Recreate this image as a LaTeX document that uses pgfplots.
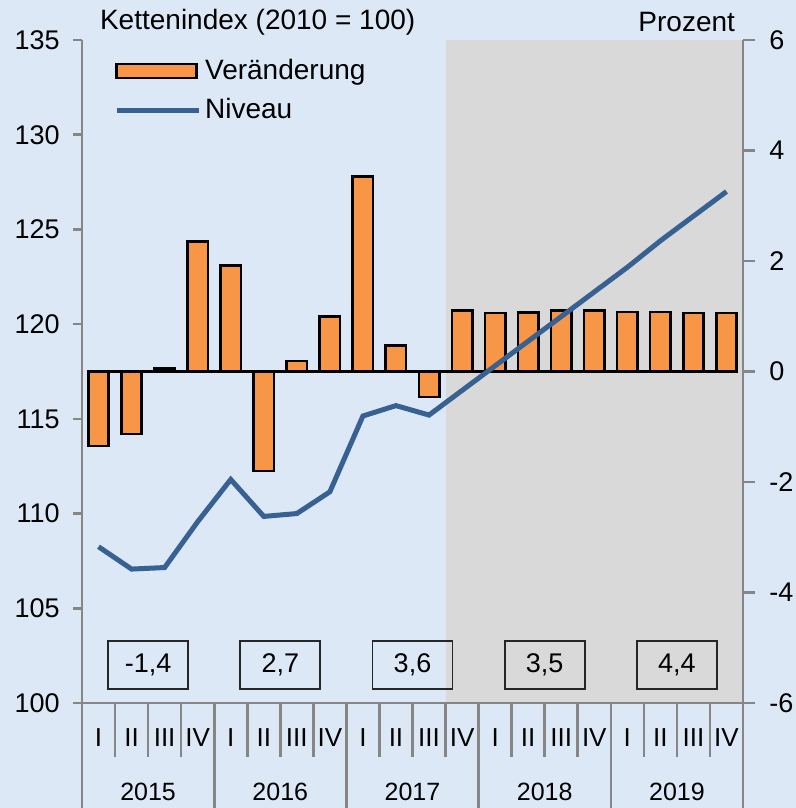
\documentclass[border=0pt]{standalone}
\usepackage{pgfplots}
\pgfplotsset{compat=1.18}
\usepackage{fontspec}
\setmainfont{Liberation Sans}
\definecolor{bgblue}{RGB}{220,232,246}
\definecolor{shadegray}{RGB}{217,217,217}
\definecolor{barorange}{RGB}{247,150,70}
\definecolor{lineblue}{RGB}{56,97,147}
\definecolor{axgray}{RGB}{134,134,134}
\newcommand\fs{\fontsize{13.5}{16}\selectfont}
\newcommand\ft{\fontsize{14}{16}\selectfont}
\newcommand\fq{\fontsize{13}{16}\selectfont}
\newcommand\fy{\fontsize{12.5}{15}\selectfont}
\pgfplotsset{
  barleg/.style={legend image code/.code={\draw[fill=barorange, draw=black, line width=1.3pt] (0pt,-3.5pt) rectangle (40pt,3.5pt);}},
  lineleg/.style={legend image code/.code={\draw[line width=2.5pt, lineblue] (0pt,0pt) -- (41pt,0pt);}},
  common/.style={at={(41pt,52.5pt)}, anchor=south west, width=330.5pt, height=331.5pt,
    scale only axis, xmin=-0.5, xmax=19.5, axis x line=none, clip=false,
    tick align=outside, tick style={axgray, line width=1.3pt},
    axis line style={axgray, line width=1.3pt}, tick label style={font=\fs},
    axis on top},
}
\begin{document}
\begin{tikzpicture}
\fill[bgblue] (0,0) rectangle (398pt,404pt);
% bars, right axis
\begin{axis}[common, axis y line*=right, ymin=-6, ymax=6,
  ytick={-6,-4,-2,0,2,4,6}, yticklabels={-6,-4,-2,0,2,4,6},
  major tick length=6pt, yticklabel style={anchor=west, inner sep=0pt, text width=13pt, align=left, xshift=7pt}]
\fill[shadegray] (axis cs:10.5,-6) rectangle (axis cs:19.5,6);
\addplot[ybar, bar width=10.2pt, bar shift=0pt, fill=barorange, draw=black, line width=1.3pt]
  coordinates {(0,-1.35) (1,-1.13) (2,0.05) (3,2.35) (4,1.92) (5,-1.80) (6,0.19) (7,1.0)
  (8,3.53) (9,0.47) (10,-0.46) (11,1.10) (12,1.06) (13,1.07) (14,1.10) (15,1.10)
  (16,1.08) (17,1.08) (18,1.06) (19,1.06)};
\draw[black, line width=1.3pt] (axis cs:-0.35,0) -- (axis cs:19.35,0);
% year boxes
\node[draw=black!85, line width=0.85pt, minimum width=40pt, minimum height=24pt, inner sep=0pt, font=\fs] at ([yshift=19pt]axis cs:1.5,-6) {-1,4};
\node[draw=black!85, line width=0.85pt, minimum width=40pt, minimum height=24pt, inner sep=0pt, font=\fs] at ([yshift=19pt]axis cs:5.5,-6) {2,7};
\node[draw=black!85, line width=0.85pt, minimum width=40pt, minimum height=24pt, inner sep=0pt, font=\fs] at ([yshift=19pt]axis cs:9.5,-6) {3,6};
\node[draw=black!85, line width=0.85pt, minimum width=40pt, minimum height=24pt, inner sep=0pt, font=\fs] at ([yshift=19pt]axis cs:13.5,-6) {3,5};
\node[draw=black!85, line width=0.85pt, minimum width=40pt, minimum height=24pt, inner sep=0pt, font=\fs] at ([yshift=19pt]axis cs:17.5,-6) {4,4};
% bottom axis
\draw[axgray, line width=1.3pt] (axis cs:-0.5,-6) -- (axis cs:19.5,-6);
\draw[axgray, line width=1.3pt] (axis cs:-0.5,-6) -- ++(-4.5pt,0pt);
\draw[axgray, line width=1.3pt] (axis cs:19.5,-6) -- ++(6pt,0pt);
\pgfplotsinvokeforeach{0.5,1.5,2.5,4.5,5.5,6.5,8.5,9.5,10.5,12.5,13.5,14.5,16.5,17.5,18.5}{
  \draw[axgray, line width=1.3pt] (axis cs:#1,-6) -- ++(0pt,-27pt);
}
\pgfplotsinvokeforeach{-0.5,3.5,7.5,11.5,15.5,19.5}{
  \draw[axgray, line width=1.3pt] (axis cs:#1,-6) -- ++(0pt,-53pt);
}
\pgfplotsinvokeforeach{0,4,8,12,16}{
  \node[font=\fq] at ([yshift=-17.5pt]axis cs:#1,-6) {I};
}
\pgfplotsinvokeforeach{1,5,9,13,17}{
  \node[font=\fq] at ([yshift=-17.5pt]axis cs:#1,-6) {II};
}
\pgfplotsinvokeforeach{2,6,10,14,18}{
  \node[font=\fq] at ([yshift=-17.5pt]axis cs:#1,-6) {III};
}
\pgfplotsinvokeforeach{3,7,11,15,19}{
  \node[font=\fq] at ([yshift=-17.5pt]axis cs:#1,-6) {IV};
}
\node[font=\fy] at ([yshift=-44.5pt]axis cs:1.5,-6) {2015};
\node[font=\fy] at ([yshift=-44.5pt]axis cs:5.5,-6) {2016};
\node[font=\fy] at ([yshift=-44.5pt]axis cs:9.5,-6) {2017};
\node[font=\fy] at ([yshift=-44.5pt]axis cs:13.5,-6) {2018};
\node[font=\fy] at ([yshift=-44.5pt]axis cs:17.5,-6) {2019};
\end{axis}
% line, left axis
\begin{axis}[common, axis y line*=left, ymin=100, ymax=135,
  ytick={100,105,110,115,120,125,130,135}, yticklabels={100,105,110,115,120,125,130,135},
  major tick length=4.5pt, yticklabel style={anchor=east, inner sep=0pt, xshift=-6.5pt},
  legend style={draw=none, fill=none, at={(0.048,0.9775)}, anchor=north west,
    font=\ft, row sep=4pt, inner sep=0pt, nodes={inner sep=2pt}},
  legend cell align=left]
\addlegendimage{barleg}
\addlegendentry{Veränderung}
\addplot[lineleg, lineblue, line width=2.5pt, line join=miter, no markers]
  coordinates {(0,108.25) (1,107.07) (2,107.15) (3,109.57) (4,111.8) (5,109.85) (6,110.0)
  (7,111.15) (8,115.15) (9,115.7) (10,115.2) (11,116.5) (12,117.8) (13,119.1) (14,120.4)
  (15,121.7) (16,123.0) (17,124.4) (18,125.7) (19,127.0)};
\addlegendentry{Niveau}
\end{axis}
\node[anchor=base west, font=\ft] at (46.5pt,389.3pt) {Kettenindex (2010 = 100)};
\node[anchor=base east, font=\ft] at (371pt,388.2pt) {Prozent};
\pgfresetboundingbox
\path[use as bounding box] (0,0) rectangle (398pt,404pt);
\end{tikzpicture}
\end{document}
